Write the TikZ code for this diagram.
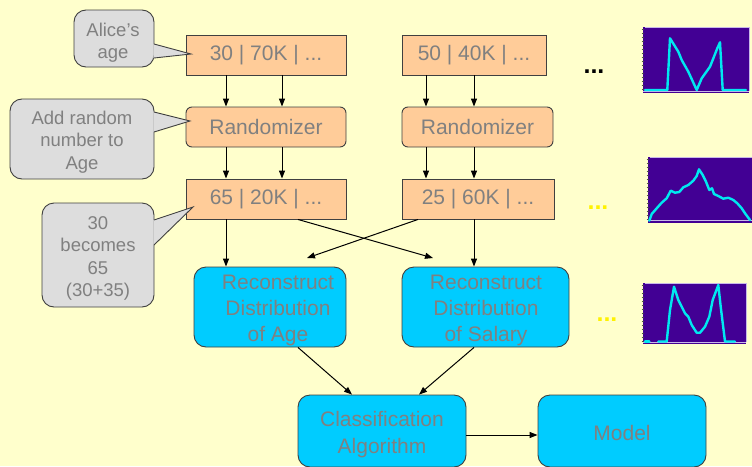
\documentclass[tikz,border=0pt]{standalone}
\usepackage{fontspec}
\setmainfont{Liberation Sans}
\usetikzlibrary{arrows.meta}
\definecolor{bg}{HTML}{FFFFCC}
\definecolor{peach}{HTML}{FFCC99}
\definecolor{sky}{HTML}{00CCFF}
\definecolor{bubble}{HTML}{DDDDDD}
\definecolor{txt}{HTML}{808080}
\definecolor{edge}{HTML}{404040}
\definecolor{plotbg}{HTML}{420094}
\definecolor{plotline}{HTML}{00E8F0}
\definecolor{plotedge}{HTML}{C8B8E8}
\begin{document}
\begin{tikzpicture}[x=1pt,y=-1pt,
  box/.style={draw=edge,line width=0.9pt,fill=peach,text=txt,font=\fontsize{21}{24}\selectfont,inner sep=0pt,minimum height=40pt},
  rbox/.style={box,rounded corners=6pt},
  bluebox/.style={draw=edge,line width=0.9pt,fill=sky,rounded corners=12pt,inner sep=0pt},
  bluetext/.style={text=txt,align=center,inner sep=0pt},
  bub/.style={draw=edge,line width=0.9pt,fill=bubble,rounded corners=12pt,inner sep=0pt},
  bubtext/.style={text=txt,align=center,inner sep=0pt,font=\fontsize{18.5}{22.5}\selectfont},
  arr/.style={draw=black,line width=1pt,-{Triangle[length=8pt,width=6pt]}},
  pframe/.style={draw=plotedge,line width=1pt},
  pcurve/.style={draw=plotline,line width=2.4pt,line join=round,line cap=round},
  ptick/.style={draw=black!70,line width=0.4pt},
  dots/.style={font=\bfseries\fontsize{25}{25}\selectfont,inner sep=0pt}
]
\useasboundingbox (0,0) rectangle (752,466);
\fill[bg] (0,0) rectangle (752,466);

% boxes
\node[box,minimum width=160pt] (b1) at (266,55) {30 | 70K | ...};
\node[rbox,minimum width=160pt] (r1) at (266,127) {Randomizer};
\node[box,minimum width=160pt] (c1) at (266,199) {65 | 20K | ...};
\node[box,minimum width=144pt] (b2) at (474,55) {50 | 40K | ...};
\node[rbox,minimum width=151pt] (r2) at (477.5,127) {Randomizer};
\node[box,minimum width=152pt] (c2) at (478,199) {25 | 60K | ...};
\node[bluebox,minimum width=152pt,minimum height=80pt] (ra) at (270,307) {};
\node[bluetext,font=\fontsize{21}{26}\selectfont] (ta) at (278,310) {Reconstruct\\Distribution\\of Age};
\node[bluebox,minimum width=167pt,minimum height=80pt] (rs) at (485.5,307) {};
\node[bluetext,font=\fontsize{21}{26}\selectfont] (ts) at (486,310) {Reconstruct\\Distribution\\of Salary};
\node[bluebox,minimum width=168pt,minimum height=72pt] (cls) at (382,431) {};
\node[bluetext,font=\fontsize{21}{27}\selectfont] (tcl) at (382,434.5) {Classification\\Algorithm};
\node[bluebox,minimum width=168pt,minimum height=72pt] (mdl) at (622,431) {};
\node[bluetext,font=\fontsize{21}{27}\selectfont] (tm) at (622,433) {Model};

% x positions of arrows
\coordinate (xa) at (226,0);
\coordinate (xb) at (282,0);
\coordinate (xc) at (426,0);
\coordinate (xd) at (474,0);
\draw[arr] (b1.south -| xa) -- (r1.north -| xa);
\draw[arr] (b1.south -| xb) -- (r1.north -| xb);
\draw[arr] (r1.south -| xa) -- (c1.north -| xa);
\draw[arr] (r1.south -| xb) -- (c1.north -| xb);
\draw[arr] (b2.south -| xc) -- (r2.north -| xc);
\draw[arr] (b2.south -| xd) -- (r2.north -| xd);
\draw[arr] (r2.south -| xc) -- (c2.north -| xc);
\draw[arr] (r2.south -| xd) -- (c2.north -| xd);
\draw[arr] (c1.south -| xa) -- (ra.north -| xa);
\draw[arr] (c2.south -| xd) -- (rs.north -| xd);
\coordinate (e1) at (433,258);
\coordinate (e2) at (307,258);
\draw[arr] ([xshift=32pt]c1.south) -- (e1);
\draw[arr] ([xshift=-60pt]c2.south) -- (e2);
\draw[arr] ([xshift=28pt]ra.south) -- ([xshift=-30pt]cls.north);
\draw[arr] ([xshift=-11.5pt]rs.south) -- ([xshift=37pt]cls.north);
\draw[arr] ([yshift=-4pt]cls.east) -- ([yshift=-4pt]mdl.west);

% callouts
\node[bub,minimum width=80pt,minimum height=57pt] (ca) at (114,38.5) {};
\fill[bubble] (153.3,44) -- (191,54) -- (153.3,58) -- cycle;
\draw[edge,line width=0.9pt,line join=miter] (154,44) -- (191,54) -- (154,58);
\node[bubtext] (tca) at (113,42.5) {Alice’s\\age};

\node[bub,minimum width=144pt,minimum height=80pt] (cb) at (82,139) {};
\fill[bubble] (153.3,112) -- (190,121) -- (153.3,132) -- cycle;
\draw[edge,line width=0.9pt] (154,112) -- (190,121) -- (154,132);
\node[bubtext] (tcb) at (82,142) {Add random\\number to\\Age};

\node[bub,minimum width=112pt,minimum height=104pt] (cc) at (98,255) {};
\fill[bubble] (153.3,220) -- (193,207) -- (153.3,245) -- cycle;
\draw[edge,line width=0.9pt] (154,220) -- (193,207) -- (154,245);
\node[bubtext] (tcc) at (98,258.5) {30\\becomes\\65\\(30+35)};

% dots
\node[dots,text=black] (d1) at (594,72) {...};
\node[dots,text=yellow] (d2) at (598,208) {...};
\node[dots,text=yellow] (d3) at (607,320) {...};

% plot 1
\fill[plotbg] (643,27) rectangle (749,93);
\draw[pframe] (645,27) -- (749,27) -- (749,91);
\draw[pframe] (643,91) -- (749,91);
\foreach \t in {0,...,15} \draw[ptick] (641.5,{29+\t*4}) -- (644,{29+\t*4});
\draw[pcurve] (645,90) -- (667.3,90) -- (670,38.3) -- (678.3,51.7) -- (681.7,60) -- (688.3,71.7) -- (696.7,90) -- (701.7,78.3) -- (710,66.7) -- (717.3,48.3) -- (720,42.3) -- (722.7,90) -- (746,90);

% plot 2
\fill[plotbg] (648,157) rectangle (752,223);
\draw[pframe] (650,157) -- (752,157);
\draw[pframe] (648,220.5) -- (752,220.5);
\foreach \t in {0,...,15} \draw[ptick] (646.5,{159+\t*4}) -- (649,{159+\t*4});
\draw[pcurve] (649.3,220.7) -- (651.7,214) -- (656.7,208.3) -- (661.7,202.7) -- (666.7,198.3) -- (670.7,190.7) -- (675,192.7) -- (679.3,192) -- (683.3,187.3) -- (688.3,185) -- (693.3,180.7) -- (696.7,176) -- (699,169.3) -- (702.7,175) -- (706,181.7) -- (709.3,190) -- (712,188.3) -- (714,194) -- (718.3,196) -- (723.3,198.7) -- (728.3,197.7) -- (733.3,200) -- (737.3,203.3) -- (741.7,208.3) -- (745,213.3) -- (750,220);

% plot 3
\fill[plotbg] (643,283) rectangle (746,344);
\draw[pframe] (645,283) -- (746,283) -- (746,342);
\draw[pframe] (643,342) -- (746,342);
\foreach \t in {0,...,14} \draw[ptick] (641.5,{285+\t*4}) -- (644,{285+\t*4});
\draw[pcurve] (645,341.5) -- (649.3,341.5);
\draw[pcurve] (658.3,341.5) -- (666.7,341.5) -- (670,310) -- (674,286.7) -- (678.3,300) -- (681.7,306.7) -- (685,313.3) -- (688.3,316.7) -- (691.7,325) -- (696.7,332.7) -- (700,332.7) -- (705,326.7) -- (709.3,316.7) -- (712.7,300) -- (718.3,285) -- (720.7,306.7) -- (725,341.5) -- (735,341.5);
\end{tikzpicture}
\end{document}
